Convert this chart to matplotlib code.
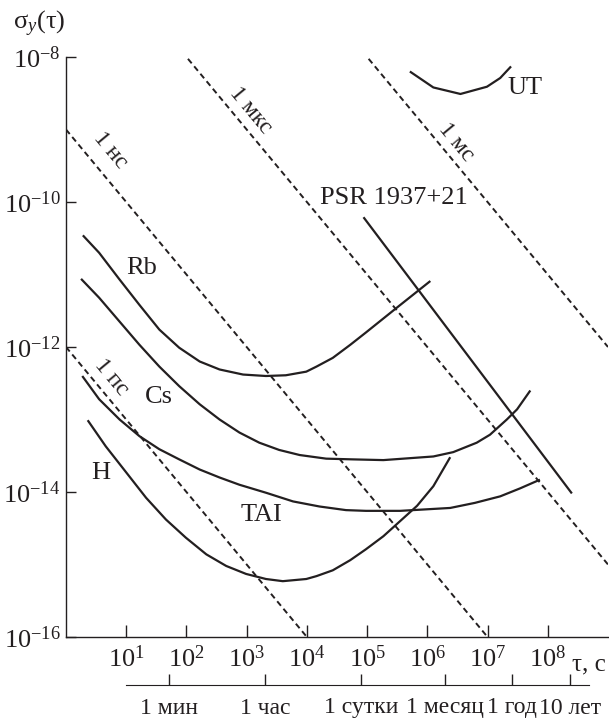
import matplotlib
matplotlib.use('Agg')
import matplotlib.pyplot as plt
import numpy as np

plt.rcParams['font.family'] = ['Liberation Serif', 'DejaVu Serif']
plt.rcParams['mathtext.fontset'] = 'custom'
plt.rcParams['mathtext.rm'] = 'Liberation Serif'
plt.rcParams['mathtext.it'] = 'Liberation Serif:italic'
plt.rcParams['mathtext.bf'] = 'Liberation Serif:bold'

INK = '#231f20'

# ---- data (log10 tau, log10 sigma) ----
rb_lt = [0.28, 0.55, 0.89, 1.22, 1.55, 1.88, 2.22, 2.55, 2.94, 3.32, 3.65, 3.99, 4.16, 4.43, 4.72, 4.98,
         5.49, 6.05]
rb_ls = [-10.46, -10.70, -11.07, -11.42, -11.76, -12.01, -12.20, -12.31, -12.38, -12.40, -12.39, -12.34,
         -12.27, -12.15, -11.97, -11.80, -11.46, -11.09]

cs_lt = [0.25, 0.55, 0.89, 1.22, 1.55, 1.88, 2.22, 2.55, 2.88, 3.21, 3.54, 3.88, 4.32, 4.76, 5.27,
         6.10, 6.43, 6.82, 7.04, 7.32, 7.49, 7.71]
cs_ls = [-11.06, -11.32, -11.65, -11.97, -12.27, -12.54, -12.79, -13.00, -13.18, -13.32, -13.42, -13.49,
         -13.54, -13.55, -13.56, -13.51, -13.45, -13.32, -13.21, -13.00, -12.86, -12.60]

tai_lt = [0.27, 0.55, 0.89, 1.22, 1.55, 1.88, 2.22, 2.55, 2.88, 3.32, 3.77, 4.21, 4.65, 4.98, 5.55,
          6.38, 6.79, 7.21, 7.54, 7.87]
tai_ls = [-12.40, -12.72, -13.00, -13.23, -13.41, -13.55, -13.69, -13.80, -13.90, -14.01, -14.13, -14.20,
          -14.25, -14.26, -14.26, -14.22, -14.15, -14.06, -13.95, -13.83]

h_lt = [0.36, 0.66, 1.00, 1.33, 1.66, 1.99, 2.33, 2.66, 2.99, 3.32, 3.60, 3.99, 4.16, 4.43, 4.72, 4.98,
        5.27, 5.83, 6.10, 6.38]
h_ls = [-13.01, -13.37, -13.73, -14.08, -14.38, -14.63, -14.86, -15.02, -15.13, -15.20, -15.23, -15.20,
        -15.16, -15.08, -14.94, -14.79, -14.61, -14.19, -13.92, -13.52]

psr_lt = [4.94, 8.40]
psr_ls = [-10.21, -14.02]

ut_lt = [5.71, 6.10, 6.55, 6.99, 7.21, 7.39]
ut_ls = [-8.20, -8.42, -8.51, -8.41, -8.29, -8.13]

# constant time-error lines: sigma * tau = const
time_err = [1e-12, 1e-9, 1e-6, 1e-3]
time_err_labels = ['1 пс', '1 нс', '1 мкс', '1 мс']
time_err_label_pos = [(0.75, -12.41), (0.73, -9.28), (3.06, -8.74), (6.48, -9.17)]

curve_labels = ['Rb', 'Cs', 'H', 'TAI', 'UT', 'PSR 1937+21']
curve_label_pos = [(1.25, -10.91), (1.55, -12.69), (0.57, -13.74), (3.24, -14.32), (7.33, -8.43), (5.44, -9.94)]
curve_label_ha = ['center', 'center', 'center', 'center', 'left', 'center']

x_ticks_exp = [1, 2, 3, 4, 5, 6, 7, 8]
y_ticks_exp = [-8, -10, -12, -14, -16]

period_labels = ['1 мин', '1 час', '1 сутки', '1 месяц', '1 год', '10 лет']
period_lt = [1.71, 3.31, 4.90, 6.29, 7.41, 8.37]

W, H = 609, 721
fig = plt.figure(figsize=(W / 100, H / 100), dpi=100)
ax = fig.add_axes([66 / W, 1 - 637 / H, 542 / W, 580 / H])

for lt, ls in [(rb_lt, rb_ls), (cs_lt, cs_ls), (tai_lt, tai_ls), (h_lt, h_ls), (psr_lt, psr_ls), (ut_lt, ut_ls)]:
    ax.plot(10 ** np.array(lt), 10 ** np.array(ls), color=INK, lw=1.6,
            solid_capstyle='butt', solid_joinstyle='round')

tau_ends = np.array([1.0, 1e9])
for c in time_err:
    ax.plot(tau_ends, c / tau_ends, color=INK, lw=1.4, linestyle=(0, (3, 2)))

for lab, (lx, ly) in zip(time_err_labels, time_err_label_pos):
    ax.text(10 ** lx, 10 ** ly, lab, fontsize=17, rotation=-50.3, rotation_mode='anchor',
            ha='center', va='center', color=INK)

for lab, (lx, ly), ha in zip(curve_labels, curve_label_pos, curve_label_ha):
    ax.text(10 ** lx, 10 ** ly, lab, fontsize=19, ha=ha, va='center', color=INK)

ax.set_xscale('log')
ax.set_yscale('log')
ax.set_xlim(1, 1e9)
ax.set_ylim(1e-16, 1e-8)
ax.minorticks_off()
ax.set_xticks([10.0 ** k for k in x_ticks_exp])
ax.set_xticklabels([r'$10^{%d}$' % k for k in x_ticks_exp])
ax.set_yticks([10.0 ** k for k in y_ticks_exp])
ax.set_yticklabels([r'$10^{%d}$' % k for k in y_ticks_exp])
ax.tick_params(axis='x', direction='in', length=9, width=1.0, pad=6, labelsize=19, colors=INK)
ax.tick_params(axis='y', direction='in', length=7, width=1.0, pad=4, labelsize=19, colors=INK)
for s in ['top', 'right']:
    ax.spines[s].set_visible(False)
for s in ['left', 'bottom']:
    ax.spines[s].set_color(INK)
    ax.spines[s].set_linewidth(1.0)

ax.text(10 ** 8.40, -0.057, 'τ, с', transform=ax.get_xaxis_transform(), fontsize=18,
        ha='left', va='baseline', color=INK)
fig.text(13 / W, 1 - 24 / H, 'σ$_y$(τ)', fontsize=19, ha='left', va='center', color=INK)

# second time scale below the main axis
ax2 = fig.add_axes([66 / W, 1 - 685 / H, 542 / W, 0.0001])
ax2.set_xscale('log')
ax2.set_xlim(1, 1e9)
ax2.set_yticks([])
ax2.minorticks_off()
ax2.patch.set_visible(False)
for s in ['top', 'right', 'left']:
    ax2.spines[s].set_visible(False)
ax2.spines['bottom'].set_bounds(10, 10 ** 8.69)
ax2.spines['bottom'].set_color(INK)
ax2.set_xticks([10 ** v for v in period_lt])
ax2.set_xticklabels(period_labels)
ax2.tick_params(axis='x', direction='in', length=8, width=1.0, pad=9, labelsize=17, colors=INK)

fig.savefig('out.png', dpi=100)
